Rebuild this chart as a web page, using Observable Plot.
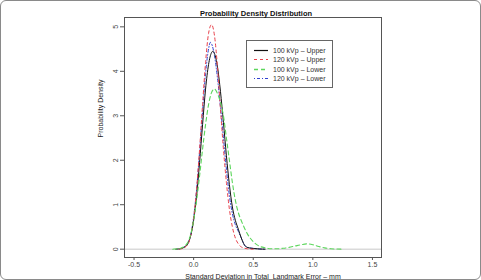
<!DOCTYPE html>
<html><head><meta charset="utf-8">
<script src="https://cdn.jsdelivr.net/npm/d3@7"></script>
<script src="https://cdn.jsdelivr.net/npm/@observablehq/plot@0.6"></script>
<style>
html,body{margin:0;padding:0;background:#fff;}
#wrap{position:relative;width:481px;height:280px;font-family:"Liberation Sans",Arial,sans-serif;}
#frame{position:absolute;left:0;top:0;width:479px;height:278px;border:1px solid #8a8a8a;border-radius:6px;pointer-events:none;}
#legend{position:absolute;left:246px;top:40px;width:85px;height:46px;border:1px solid #666;background:#fff;}
#legend .row{position:absolute;left:0;height:9px;font-size:7px;line-height:9px;color:#333;white-space:nowrap;}
#legend svg{position:absolute;left:6px;top:0;}
#legend span{position:absolute;left:26px;top:0;}
</style></head>
<body><div id="wrap"><div id="frame"></div></div>
<script>
const seriesNames = ["100 kVp \u2013 Upper","120 kVp \u2013 Upper","100 kVp \u2013 Lower","120 kVp \u2013 Lower"];
const seriesColors = ["#111111","#e8404a","#5cd65c","#3040d0"];
const seriesDash = ["none","3,3","4,3","1,2,3,2"];
const seriesWidth = [1,1,1.1,1];

const xUpper100 = [-0.15,-0.1,-0.075,-0.05,-0.025,0,0.025,0.05,0.075,0.1,0.125,0.15,0.16,0.175,0.2,0.225,0.25,0.275,0.3,0.325,0.35,0.375,0.4,0.425,0.45,0.5,0.55,0.6];
const yUpper100 = [0,0.02,0.05,0.12,0.3,0.65,1.2,1.95,2.8,3.6,4.15,4.42,4.45,4.4,4.1,3.55,2.85,2.1,1.45,0.95,0.65,0.45,0.25,0.1,0.04,0.015,0.005,0];

const xUpper120 = [-0.12,-0.1,-0.05,-0.025,0,0.025,0.05,0.075,0.1,0.125,0.15,0.175,0.2,0.225,0.25,0.275,0.3,0.325,0.35,0.375,0.4,0.45,0.5];
const yUpper120 = [0,0.01,0.1,0.3,0.7,1.35,2.25,3.25,4.2,4.85,5.05,4.8,4.1,3.15,2.25,1.5,0.9,0.5,0.25,0.12,0.05,0.01,0];

const xLower100 = [-0.175,-0.15,-0.125,-0.1,-0.075,-0.05,-0.025,0,0.025,0.05,0.075,0.1,0.125,0.15,0.175,0.2,0.225,0.25,0.275,0.3,0.325,0.35,0.375,0.4,0.45,0.5,0.55,0.6,0.65,0.7,0.75,0.8,0.85,0.9,0.95,1.0,1.05,1.1,1.15,1.2,1.25];
const yLower100 = [0,0.005,0.01,0.03,0.07,0.15,0.33,0.65,1.1,1.65,2.25,2.8,3.25,3.52,3.6,3.5,3.3,3.0,2.5,2.0,1.5,1.1,0.82,0.64,0.35,0.17,0.07,0.03,0.01,0.01,0.02,0.04,0.07,0.1,0.12,0.1,0.06,0.03,0.01,0.003,0];

const xLower120 = [-0.12,-0.1,-0.05,-0.025,0,0.025,0.05,0.075,0.1,0.125,0.14,0.15,0.175,0.2,0.225,0.25,0.275,0.3,0.325,0.35,0.375,0.4,0.425,0.45,0.5,0.55,0.6];
const yLower120 = [0,0.02,0.12,0.32,0.72,1.35,2.2,3.1,3.95,4.5,4.65,4.62,4.35,3.85,3.2,2.5,1.8,1.2,0.8,0.55,0.4,0.25,0.1,0.04,0.02,0.005,0];

const xTicks = [-0.5,0,0.5,1,1.5];
const yTicks = [0,1,2,3,4,5];

const titleText = "Probability Density Distribution";
const xLabel = "Standard Deviation in Total  Landmark Error \u2013 mm";
const yLabel = "Probability Density";

const xs = [xUpper100,xUpper120,xLower100,xLower120];
const ys = [yUpper100,yUpper120,yLower100,yLower120];
const rows = [];
xs.forEach((xa,i)=>xa.forEach((x,j)=>rows.push({s:i,x,y:ys[i][j]})));

const lineMarks = [3,0,1,2].map(i=>Plot.line(rows.filter(d=>d.s===i),{x:"x",y:"y",curve:"monotone-x",stroke:seriesColors[i],strokeWidth:seriesWidth[i],strokeDasharray:seriesDash[i]}));

const chart = Plot.plot({
  width:481,height:280,
  marginLeft:124,marginRight:100,marginTop:17,marginBottom:23,
  style:{fontFamily:"Liberation Sans, Arial, sans-serif",fontSize:"7px",color:"#333",background:"transparent"},
  x:{domain:[-0.58,1.576],ticks:xTicks},
  y:{domain:[-0.187,5.21],ticks:yTicks},
  marks:[
    Plot.ruleY([0],{stroke:"#c8c8c8",strokeWidth:1}),
    ...lineMarks,
    Plot.frame({stroke:"#555",strokeWidth:1}),
    Plot.axisX(xTicks,{tickSize:3,tickPadding:2,tickFormat:d=>d.toFixed(1),stroke:"#555",fill:"#444",label:null}),
    Plot.axisY(yTicks,{tickSize:4,tickPadding:3,tickRotate:-90,tickFormat:d=>String(d),stroke:"#555",fill:"#444",label:null}),
    Plot.text([titleText],{frameAnchor:"top",dy:-7,dx:3,fontWeight:"bold",fontSize:7.5,fill:"#111"}),
    Plot.text([xLabel],{frameAnchor:"bottom",dy:21,dx:10,fontSize:7,fill:"#222"}),
    Plot.text([yLabel],{frameAnchor:"left",dx:-24,rotate:-90,fontSize:7,fill:"#222"})
  ]
});
chart.style.position="absolute";chart.style.left="0";chart.style.top="0";
const wrap=document.getElementById("wrap");
wrap.insertBefore(chart,wrap.firstChild);

const leg=document.createElement("div");leg.id="legend";
seriesNames.forEach((n,i)=>{
  const r=document.createElement("div");r.className="row";r.style.top=(5+i*9.3)+"px";
  r.innerHTML=`<svg width="16" height="9"><line x1="1" y1="4.5" x2="15" y2="4.5" stroke="${seriesColors[i]}" stroke-width="${i===2?1.6:1.2}" stroke-dasharray="${seriesDash[i]==="none"?"":seriesDash[i]}"/></svg><span>${n}</span>`;
  leg.appendChild(r);
});
wrap.appendChild(leg);
</script></body></html>
